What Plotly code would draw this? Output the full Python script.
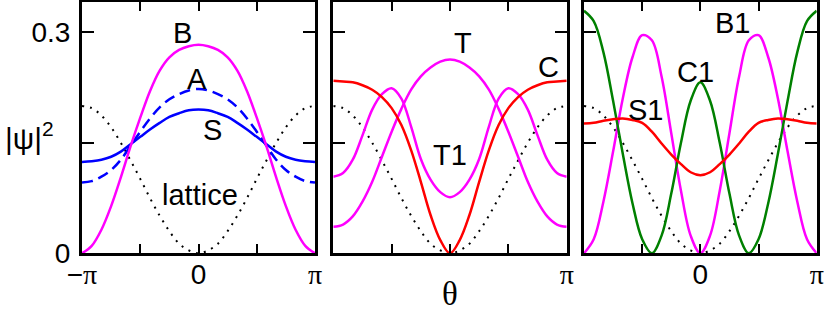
import plotly.graph_objects as go

PI = 3.141592653589793

# sample grid: theta in units of pi/12, from -pi to pi
K = list(range(-12, 13))
theta = [k * PI / 12 for k in K]

# ---- panel 1 ----
lattice = [0.200, 0.197, 0.187, 0.171, 0.150, 0.126, 0.101, 0.075, 0.051, 0.030, 0.013, 0.004, 0.000,
           0.004, 0.013, 0.030, 0.051, 0.075, 0.101, 0.126, 0.150, 0.171, 0.187, 0.197, 0.200]
B = [0.000, 0.010, 0.032, 0.064, 0.103, 0.145, 0.184, 0.220, 0.248, 0.266, 0.276, 0.281, 0.283,
     0.281, 0.276, 0.266, 0.248, 0.220, 0.184, 0.145, 0.103, 0.064, 0.032, 0.010, 0.000]
A = [0.096, 0.098, 0.104, 0.113, 0.127, 0.146, 0.165, 0.183, 0.198, 0.209, 0.216, 0.221, 0.223,
     0.221, 0.216, 0.209, 0.198, 0.183, 0.165, 0.146, 0.127, 0.113, 0.104, 0.098, 0.096]
S = [0.124, 0.125, 0.127, 0.131, 0.138, 0.148, 0.158, 0.168, 0.177, 0.185, 0.190, 0.194, 0.195,
     0.194, 0.190, 0.185, 0.177, 0.168, 0.158, 0.148, 0.138, 0.131, 0.127, 0.125, 0.124]

# ---- panel 2 ----
C = [0.234, 0.233, 0.232, 0.228, 0.222, 0.212, 0.197, 0.174, 0.140, 0.097, 0.052, 0.018, 0.000,
     0.018, 0.052, 0.097, 0.140, 0.174, 0.197, 0.212, 0.222, 0.228, 0.232, 0.233, 0.234]
T = [0.036, 0.039, 0.050, 0.070, 0.097, 0.131, 0.165, 0.196, 0.222, 0.240, 0.252, 0.260, 0.263,
     0.260, 0.252, 0.240, 0.222, 0.196, 0.165, 0.131, 0.097, 0.070, 0.050, 0.039, 0.036]
T1 = [0.104, 0.109, 0.127, 0.160, 0.195, 0.216, 0.224, 0.210, 0.172, 0.128, 0.100, 0.083, 0.076,
      0.083, 0.100, 0.128, 0.172, 0.210, 0.224, 0.216, 0.195, 0.160, 0.127, 0.109, 0.104]

# ---- panel 3 ----
C1 = [0.329, 0.315, 0.273, 0.207, 0.135, 0.068, 0.019, 0.000, 0.024, 0.081, 0.150, 0.207, 0.232,
      0.207, 0.150, 0.081, 0.024, 0.000, 0.019, 0.068, 0.135, 0.207, 0.273, 0.315, 0.329]
B1 = [0.000, 0.019, 0.070, 0.138, 0.210, 0.266, 0.296, 0.289, 0.240, 0.163, 0.085, 0.024, 0.000,
      0.024, 0.085, 0.163, 0.240, 0.289, 0.296, 0.266, 0.210, 0.138, 0.070, 0.019, 0.000]
S1 = [0.176, 0.177, 0.180, 0.182, 0.183, 0.181, 0.177, 0.165, 0.149, 0.134, 0.121, 0.110, 0.106,
      0.110, 0.121, 0.134, 0.149, 0.165, 0.177, 0.181, 0.183, 0.182, 0.180, 0.177, 0.176]

x_tickvals = [-PI, -PI / 2, 0, PI / 2, PI]
SERIF = "Liberation Serif, Times New Roman, serif"
SANS = "Liberation Sans, Arial, Helvetica, sans-serif"
pi_txt = "<span style='font-family:Liberation Serif'>π</span>"
x_ticktexts = [
    ["−" + pi_txt, "", "0", "", pi_txt],
    ["", "", "", "", pi_txt],
    ["", "", "0", "", pi_txt],
]
y_tickvals = [0, 0.15, 0.3]
y_ticktext = ["0", "", "0.3"]

MAGENTA = "#ff00ff"
BLUE = "#0000ff"
RED = "#ff0000"
GREEN = "#008000"
DOT = "2px,6px"

panels = [
    [(lattice, "black", DOT, 2), (S, BLUE, "solid", 2.5), (A, BLUE, "11px,6px", 2.5), (B, MAGENTA, "solid", 2.5)],
    [(lattice, "black", DOT, 2), (T, MAGENTA, "solid", 2.5), (T1, MAGENTA, "solid", 2.5), (C, RED, "solid", 2.5)],
    [(lattice, "black", DOT, 2), (B1, MAGENTA, "solid", 2.5), (C1, GREEN, "solid", 2.5), (S1, RED, "solid", 2.5)],
]

W, H = 830, 311
x_domains = [[82 / W, 315 / W], [333.3 / W, 566.7 / W], [584 / W, 816.7 / W]]
y_domain = [(H - 253.3) / H, (H - 2) / H]

fig = go.Figure()
layout = {}
for i, curves in enumerate(panels):
    sfx = "" if i == 0 else str(i + 1)
    for vals, color, dash, w in curves:
        fig.add_trace(go.Scatter(
            x=theta, y=vals, xaxis="x" + sfx, yaxis="y" + sfx, mode="lines",
            line=dict(color=color, width=w, dash=dash, shape="spline"),
            hoverinfo="skip", showlegend=False))
    layout["xaxis" + sfx] = dict(
        domain=x_domains[i], range=[-PI, PI], anchor="y" + sfx, automargin=False,
        showline=True, linewidth=3, linecolor="black", mirror="ticks",
        ticks="inside", ticklen=9, tickwidth=2, tickcolor="black",
        tickmode="array", tickvals=x_tickvals, ticktext=x_ticktexts[i],
        tickfont=dict(family=SANS, size=28, color="black"),
        ticklabelstandoff=-6,
        showgrid=False, zeroline=False, fixedrange=True)
    layout["yaxis" + sfx] = dict(
        domain=y_domain, range=[0, 0.341], anchor="x" + sfx, automargin=False,
        showline=True, linewidth=3, linecolor="black", mirror="ticks",
        ticks="inside", ticklen=12, tickwidth=2, tickcolor="black",
        tickmode="array", tickvals=y_tickvals, ticktext=y_ticktext,
        showticklabels=(i == 0),
        tickfont=dict(family=SANS, size=28, color="black"),
        ticklabelstandoff=3,
        showgrid=False, zeroline=False, fixedrange=True)

ann_font = dict(family=SANS, size=29, color="black")
labels = [
    ("B", -0.445, 0.299, ""), ("A", -0.04, 0.236, ""), ("S", 0.364, 0.167, ""), ("lattice", 0.04, 0.079, ""),
    ("T", 0.351, 0.285, "2"), ("C", 2.643, 0.253, "2"), ("T1", 0.0, 0.133, "2"),
    ("B1", 0.855, 0.313, "3"), ("C1", -0.143, 0.246, "3"), ("S1", -1.49, 0.195, "3"),
]
annotations = []
for txt, ax_, ay_, s in labels:
    annotations.append(dict(text=txt, x=ax_, y=ay_, xref="x" + s, yref="y" + s,
                            showarrow=False, font=ann_font, xanchor="center", yanchor="middle"))
annotations.append(dict(text="|ψ|<sup>2</sup>", x=29 / W, y=(H - 136) / H, xref="paper", yref="paper",
                        showarrow=False, font=dict(family=SANS, size=30, color="black"),
                        xanchor="center", yanchor="middle"))
annotations.append(dict(text="θ", x=450 / W, y=(H - 294) / H, xref="paper", yref="paper",
                        showarrow=False, font=dict(family=SERIF, size=33, color="black"),
                        xanchor="center", yanchor="middle"))

fig.update_layout(
    width=W, height=H, margin=dict(l=0, r=0, t=0, b=0, autoexpand=False),
    paper_bgcolor="white", plot_bgcolor="white",
    annotations=annotations, **layout)

fig.write_html("out.html", config={"displayModeBar": False},
               post_script="document.body.style.margin='0';document.body.style.overflow='hidden';")
